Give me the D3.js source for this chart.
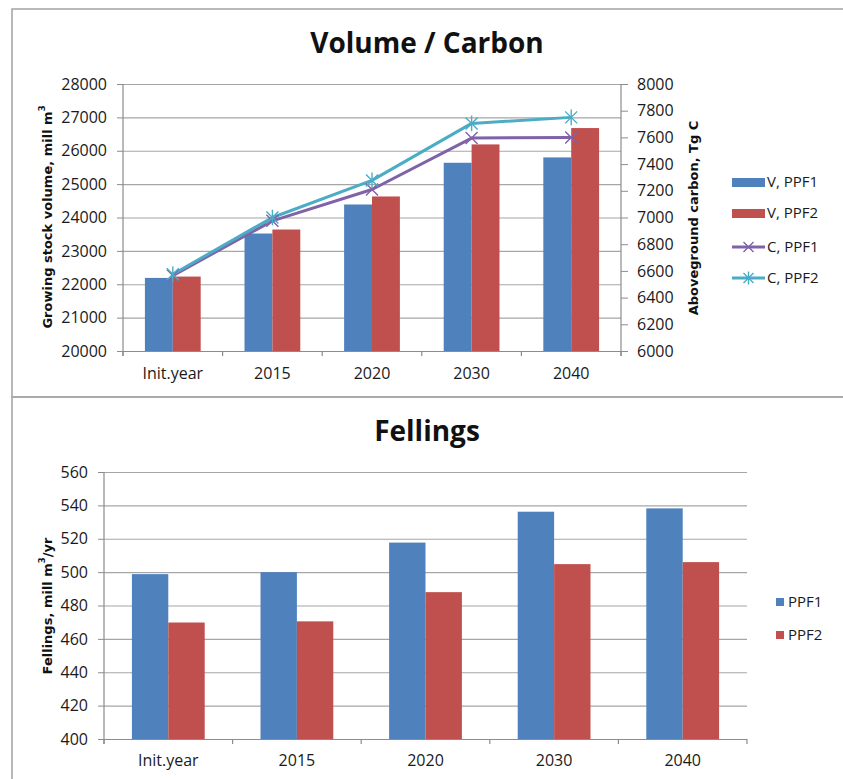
<!DOCTYPE html>
<html>
<head>
<meta charset="utf-8">
<script src="https://cdn.jsdelivr.net/npm/d3@7"></script>
<style>
  html, body { margin: 0; padding: 0; background: #fff; }
  svg { display: block; }
  .tick text { font-family: "Open Sans", sans-serif; font-size: 16px; fill: #1a1a1a; }
</style>
</head>
<body>
<svg id="chart" width="843" height="779"></svg>
<script>
// ---- data ----
const categories = ["Init.year", "2015", "2020", "2030", "2040"];
const volPPF1 = [22190, 23520, 24390, 25640, 25800];
const volPPF2 = [22230, 23640, 24630, 26190, 26680];
const carbonPPF1 = [6565, 6975, 7210, 7595, 7600];
const carbonPPF2 = [6575, 7000, 7278, 7705, 7750];
const fellPPF1 = [498.8, 500, 517.7, 536.2, 538.2];
const fellPPF2 = [469.8, 470.5, 488, 504.8, 506];
const volTicks = [20000, 21000, 22000, 23000, 24000, 25000, 26000, 27000, 28000];
const carbonTicks = [6000, 6200, 6400, 6600, 6800, 7000, 7200, 7400, 7600, 7800, 8000];
const fellTicks = [400, 420, 440, 460, 480, 500, 520, 540, 560];
const topLegend = ["V, PPF1", "V, PPF2", "C, PPF1", "C, PPF2"];
const bottomLegend = ["PPF1", "PPF2"];

const BLUE = "#4F81BD", RED = "#C0504D", PURPLE = "#7F62A8", CYAN = "#4BACC6";
const GRID = "#a6a6a6", AXIS = "#8c8c8c", FRAME = "#a8a8a8";
const TXT = "#1a1a1a";

const svg = d3.select("#chart");
svg.append("rect").attr("width", 843).attr("height", 779).attr("fill", "#fff");

// frames
svg.append("rect").attr("x", 12).attr("y", 9).attr("width", 840).attr("height", 388)
  .attr("fill", "none").attr("stroke", FRAME).attr("stroke-width", 1.6);
svg.append("rect").attr("x", 12).attr("y", 397).attr("width", 840).attr("height", 400)
  .attr("fill", "none").attr("stroke", FRAME).attr("stroke-width", 1.6);

function styleAxis(g) {
  g.select(".domain").remove();
  g.selectAll(".tick line").attr("stroke", AXIS);
}

function gridAndAxes(root, x, y, yTicks, opts) {
  const [x0, x1] = x.range();
  const [yb, yt] = y.range();
  root.append("g").selectAll("line").data(yTicks).join("line")
    .attr("x1", x0).attr("x2", x1)
    .attr("y1", d => y(d) + 0.5).attr("y2", d => y(d) + 0.5)
    .attr("stroke", GRID).attr("stroke-width", 1.2);
  const gl = root.append("g").attr("transform", `translate(${x0},0)`)
    .call(d3.axisLeft(y).tickValues(yTicks).tickSize(6).tickPadding(10).tickFormat(d3.format("d")));
  styleAxis(gl);
  root.append("line").attr("x1", x0).attr("x2", x0).attr("y1", yt).attr("y2", yb + 5)
    .attr("stroke", AXIS).attr("stroke-width", 1.2);
  const gb = root.append("g").attr("transform", `translate(0,${yb})`)
    .call(d3.axisBottom(x).tickSize(0).tickPadding(opts.xPad));
  styleAxis(gb);
  const edges = x.domain().map(d => x(d)).concat([x1]);
  root.append("g").selectAll("line").data(edges).join("line")
    .attr("x1", d => d).attr("x2", d => d).attr("y1", yb).attr("y2", yb + 5)
    .attr("stroke", AXIS).attr("stroke-width", 1.2);
  root.append("line").attr("x1", x0).attr("x2", x1).attr("y1", yb + 0.5).attr("y2", yb + 0.5)
    .attr("stroke", AXIS).attr("stroke-width", 1.2);
}

function title(text, cx, baseline) {
  svg.append("text").attr("x", cx).attr("y", baseline).attr("text-anchor", "middle")
    .attr("font-family", "'Open Sans', sans-serif").attr("font-weight", "bold")
    .attr("font-size", 28).attr("fill", "#111").text(text);
}

function vLabel(parts, cx, cy) {
  const t = svg.append("text").attr("transform", `translate(${cx},${cy}) rotate(-90)`)
    .attr("text-anchor", "middle").attr("dominant-baseline", "central")
    .attr("font-family", "'DejaVu Sans', sans-serif").attr("font-weight", "bold")
    .attr("font-size", 13).attr("fill", "#111");
  parts.forEach(p => {
    const ts = t.append("tspan").text(p.t);
    if (p.sup) ts.attr("font-size", 8.5).attr("baseline-shift", "super");
  });
}

// ================= TOP CHART =================
const topG = svg.append("g");
const xT = d3.scaleBand().domain(categories).range([123, 621]);
const yL = d3.scaleLinear().domain([20000, 28000]).range([351, 84]);
const yR = d3.scaleLinear().domain([6000, 8000]).range([351, 84]);
gridAndAxes(topG, xT, yL, volTicks, { xPad: 17 });

const gr = topG.append("g").attr("transform", "translate(621,0)")
  .call(d3.axisRight(yR).tickValues(carbonTicks).tickSize(7).tickPadding(9).tickFormat(d3.format("d")));
styleAxis(gr);
topG.append("line").attr("x1", 621).attr("x2", 621).attr("y1", 84).attr("y2", 356)
  .attr("stroke", AXIS).attr("stroke-width", 1.2);

const bwT = xT.bandwidth() * 0.28;
const volRows = categories.map((c, i) => ({ c, v1: volPPF1[i], v2: volPPF2[i] }));
topG.append("g").selectAll("rect").data(volRows).join("rect")
  .attr("x", d => xT(d.c) + xT.bandwidth() / 2 - bwT).attr("width", bwT)
  .attr("y", d => yL(d.v1)).attr("height", d => yL(20000) - yL(d.v1)).attr("fill", BLUE);
topG.append("g").selectAll("rect").data(volRows).join("rect")
  .attr("x", d => xT(d.c) + xT.bandwidth() / 2).attr("width", bwT)
  .attr("y", d => yL(d.v2)).attr("height", d => yL(20000) - yL(d.v2)).attr("fill", RED);

function xMarker(g, cx, cy, r, color) {
  g.append("path").attr("d", `M${cx - r},${cy - r}L${cx + r},${cy + r}M${cx - r},${cy + r}L${cx + r},${cy - r}`)
    .attr("stroke", color).attr("stroke-width", 1.4).attr("fill", "none");
}
function starMarker(g, cx, cy, r, color) {
  xMarker(g, cx, cy, r, color);
  g.append("path").attr("d", `M${cx},${cy - r * 1.3}L${cx},${cy + r * 1.3}`)
    .attr("stroke", color).attr("stroke-width", 1.4);
}

const line = d3.line().x((d, i) => xT(categories[i]) + xT.bandwidth() / 2).y(d => yR(d));
topG.append("path").attr("d", line(carbonPPF1)).attr("fill", "none")
  .attr("stroke", PURPLE).attr("stroke-width", 3).attr("stroke-linejoin", "round");
topG.append("path").attr("d", line(carbonPPF2)).attr("fill", "none")
  .attr("stroke", CYAN).attr("stroke-width", 3).attr("stroke-linejoin", "round");
carbonPPF1.forEach((v, i) => xMarker(topG, xT(categories[i]) + xT.bandwidth() / 2, yR(v), 6, PURPLE));
carbonPPF2.forEach((v, i) => starMarker(topG, xT(categories[i]) + xT.bandwidth() / 2, yR(v), 6, CYAN));

title("Volume / Carbon", 427, 53);
vLabel([{ t: "Growing stock volume, mill m" }, { t: "3", sup: true }], 47, 217);
vLabel([{ t: "Aboveground carbon, Tg C" }], 693, 218);

const lgT = topG.append("g").attr("font-family", "'Open Sans', sans-serif").attr("font-size", 15).attr("fill", TXT);
const legY = [182, 213, 247, 278];
topLegend.forEach((name, i) => {
  const y = legY[i];
  if (i < 2) {
    lgT.append("rect").attr("x", 732).attr("y", y - 4).attr("width", 33).attr("height", 9)
      .attr("fill", i === 0 ? BLUE : RED);
  } else {
    const col = i === 2 ? PURPLE : CYAN;
    lgT.append("line").attr("x1", 732).attr("x2", 765).attr("y1", y).attr("y2", y)
      .attr("stroke", col).attr("stroke-width", 3);
    if (i === 2) xMarker(lgT, 748.5, y, 5, col); else starMarker(lgT, 748.5, y, 5, col);
  }
  lgT.append("text").attr("x", 767).attr("y", y).attr("dy", "0.35em").text(name);
});

// ================= BOTTOM CHART =================
const botG = svg.append("g");
const xB = d3.scaleBand().domain(categories).range([104, 747]);
const yB = d3.scaleLinear().domain([400, 560]).range([739, 472]);
gridAndAxes(botG, xB, yB, fellTicks, { xPad: 16 });

const bwB = xB.bandwidth() * 0.283;
const fellRows = categories.map((c, i) => ({ c, v1: fellPPF1[i], v2: fellPPF2[i] }));
botG.append("g").selectAll("rect").data(fellRows).join("rect")
  .attr("x", d => xB(d.c) + xB.bandwidth() / 2 - bwB).attr("width", bwB)
  .attr("y", d => yB(d.v1)).attr("height", d => yB(400) - yB(d.v1)).attr("fill", BLUE);
botG.append("g").selectAll("rect").data(fellRows).join("rect")
  .attr("x", d => xB(d.c) + xB.bandwidth() / 2).attr("width", bwB)
  .attr("y", d => yB(d.v2)).attr("height", d => yB(400) - yB(d.v2)).attr("fill", RED);

title("Fellings", 427, 441);
vLabel([{ t: "Fellings, mill m" }, { t: "3", sup: true }, { t: "/yr" }], 47, 606);

const lgB = botG.append("g").attr("font-family", "'Open Sans', sans-serif").attr("font-size", 15).attr("fill", TXT);
[602, 635].forEach((y, i) => {
  lgB.append("rect").attr("x", 776).attr("y", y - 4).attr("width", 8).attr("height", 8)
    .attr("fill", i === 0 ? BLUE : RED);
  lgB.append("text").attr("x", 788).attr("y", y).attr("dy", "0.35em").text(bottomLegend[i]);
});
</script>
</body>
</html>
